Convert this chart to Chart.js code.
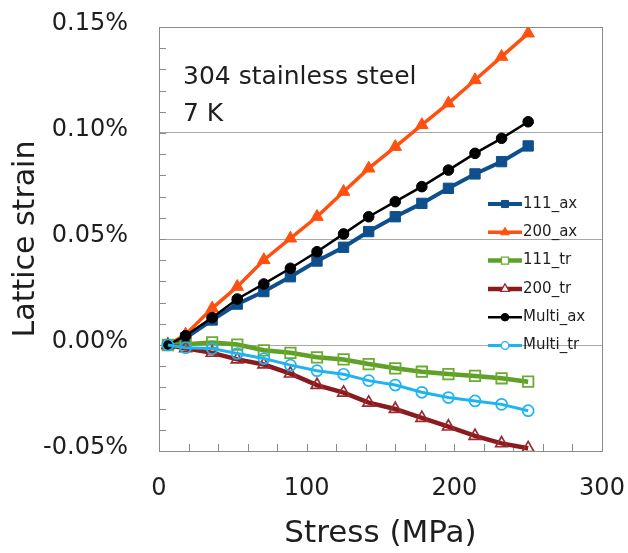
<!DOCTYPE html>
<html><head><meta charset="utf-8">
<script src="https://cdn.jsdelivr.net/npm/chart.js@4.4.0/dist/chart.umd.min.js"></script>
<style>html,body{margin:0;padding:0;background:#fff;} canvas{display:block;}</style>
</head><body>
<canvas id="c" width="628" height="553"></canvas>
<script>
// ---- data (stress in MPa, lattice strain in %) ----
const stress = [6, 18, 36, 53, 71, 89, 107, 125, 142, 160, 178, 196, 214, 232, 250];
const ax111   = [0, 0.0033, 0.0118, 0.0193, 0.0252, 0.0322, 0.0396, 0.0461, 0.0535, 0.0605, 0.0668, 0.0739, 0.0807, 0.0865, 0.0939];
const ax200   = [0, 0.0050, 0.0173, 0.0275, 0.0401, 0.0503, 0.0605, 0.0723, 0.0833, 0.0935, 0.1038, 0.1140, 0.1250, 0.1360, 0.1470];
const tr111   = [0, 0.0003, 0.0012, 0.0002, -0.0025, -0.0037, -0.0058, -0.0068, -0.0090, -0.0110, -0.0126, -0.0137, -0.0146, -0.0157, -0.0173];
const tr200   = [0, -0.0015, -0.0037, -0.0068, -0.0092, -0.0135, -0.0189, -0.0225, -0.0272, -0.0302, -0.0344, -0.0385, -0.0429, -0.0464, -0.0487];
const multiAx = [0, 0.0044, 0.0129, 0.0217, 0.0288, 0.0362, 0.0440, 0.0524, 0.0605, 0.0676, 0.0747, 0.0825, 0.0904, 0.0975, 0.1053];
const multiTr = [0, -0.0013, -0.0017, -0.0040, -0.0064, -0.0095, -0.0121, -0.0138, -0.0168, -0.0189, -0.0223, -0.0248, -0.0264, -0.0280, -0.0310];
const seriesNames = ['111_ax', '200_ax', '111_tr', '200_tr', 'Multi_ax', 'Multi_tr'];
const xMajorTicks = [0, 100, 200, 300];
const yMajorTicks = [-0.05, 0.00, 0.05, 0.10, 0.15];
const annotationLines = ['304 stainless steel', '7 K'];
const xTitle = 'Stress (MPa)';
const yTitle = 'Lattice strain';

const FONT = 'DejaVu Sans';
const TXT = '#1e1e1e';
const toPts = ys => stress.map((x, i) => ({x: x, y: ys[i]}));
const isMajor = (v, list) => list.some(m => Math.abs(m - v) < 1e-9);

const datasets = [
  {label: seriesNames[0], data: toPts(ax111), borderColor: '#0e4f8c', borderWidth: 4,
   pointStyle: 'rect', pointRadius: 7.3, pointBorderWidth: 1, pointBackgroundColor: '#0e4f8c', pointBorderColor: '#0e4f8c', order: 6},
  {label: seriesNames[1], data: toPts(ax200), borderColor: '#ff5010', borderWidth: 3.5,
   pointStyle: 'triangle', pointRadius: 7.2, pointBorderWidth: 1, pointBackgroundColor: '#ff5010', pointBorderColor: '#ff5010', order: 5},
  {label: seriesNames[2], data: toPts(tr111), borderColor: '#5fa027', borderWidth: 4.5,
   pointStyle: 'rect', pointRadius: 7.4, pointBorderWidth: 1.8, pointBackgroundColor: 'rgba(0,0,0,0)', pointBorderColor: '#6aab30', order: 4},
  {label: seriesNames[3], data: toPts(tr200), borderColor: '#8a1a1e', borderWidth: 4.5,
   pointStyle: 'triangle', pointRadius: 6.8, pointBorderWidth: 1.7, pointBackgroundColor: 'rgba(0,0,0,0)', pointBorderColor: '#9a2a2e', order: 3},
  {label: seriesNames[4], data: toPts(multiAx), borderColor: '#000000', borderWidth: 2.5,
   pointStyle: 'circle', pointRadius: 5.3, pointBorderWidth: 1, pointBackgroundColor: '#000000', pointBorderColor: '#000000', order: 2},
  {label: seriesNames[5], data: toPts(multiTr), borderColor: '#1fb4ee', borderWidth: 3,
   pointStyle: 'circle', pointRadius: 5.5, pointBorderWidth: 1.7, pointBackgroundColor: 'rgba(0,0,0,0)', pointBorderColor: '#1fb4ee', order: 1}
];

function drawMarker(ctx, style, x, y, r, fill, stroke, lw) {
  ctx.beginPath();
  if (style === 'rect') {
    const s = Math.SQRT1_2 * r;
    ctx.rect(x - s, y - s, 2 * s, 2 * s);
  } else if (style === 'triangle') {
    const h = Math.sqrt(3) / 2;
    ctx.moveTo(x, y - r);
    ctx.lineTo(x + r * h, y + r / 2);
    ctx.lineTo(x - r * h, y + r / 2);
    ctx.closePath();
  } else {
    ctx.arc(x, y, r, 0, Math.PI * 2);
  }
  if (fill) { ctx.fillStyle = fill; ctx.fill(); }
  if (stroke && lw) { ctx.strokeStyle = stroke; ctx.lineWidth = lw; ctx.stroke(); }
}

const framePlugin = {
  id: 'frame',
  beforeDatasetsDraw(chart) {
    const {ctx, chartArea: a, scales} = chart;
    ctx.save();
    ctx.strokeStyle = '#8a8a8a';
    ctx.lineWidth = 1;
    ctx.beginPath();
    scales.x.ticks.forEach(t => {
      const px = Math.round(scales.x.getPixelForValue(t.value)) + 0.5;
      ctx.moveTo(px, a.bottom); ctx.lineTo(px, a.bottom - 7);
    });
    scales.y.ticks.forEach(t => {
      const py = Math.round(scales.y.getPixelForValue(t.value)) + 0.5;
      ctx.moveTo(a.left, py); ctx.lineTo(a.left + 7, py);
    });
    ctx.stroke();
    ctx.strokeRect(Math.round(a.left) + 0.5, Math.round(a.top) + 0.5, Math.round(a.right - a.left), Math.round(a.bottom - a.top));
    ctx.restore();
  },
  afterDraw(chart) {
    const {ctx, chartArea: a} = chart;
    ctx.save();
    ctx.fillStyle = TXT;
    ctx.font = '25px "' + FONT + '"';
    ctx.textBaseline = 'alphabetic';
    ctx.textAlign = 'left';
    annotationLines.forEach((s, i) => ctx.fillText(s, a.left + 24, a.top + 57 + i * 37));
    const lx0 = a.left + 329, lx1 = a.left + 363, ly0 = a.top + 177, dy = 28.3;
    chart.data.datasets.forEach((ds, i) => {
      const y = ly0 + i * dy;
      ctx.beginPath();
      ctx.strokeStyle = ds.borderColor;
      ctx.lineWidth = ds.borderWidth;
      ctx.moveTo(lx0, y); ctx.lineTo(lx1, y);
      ctx.stroke();
      const filled = ds.pointBackgroundColor !== 'rgba(0,0,0,0)';
      const r = ds.pointStyle === 'circle' ? 3.8 : 5;
      drawMarker(ctx, ds.pointStyle, (lx0 + lx1) / 2, y, r,
        filled ? ds.pointBackgroundColor : '#ffffff', ds.pointBorderColor, filled ? 1 : 1.3);
      ctx.fillStyle = TXT;
      ctx.font = '15px "' + FONT + '"';
      ctx.textBaseline = 'middle';
      ctx.fillText(ds.label, lx1 + 1, y);
    });
    ctx.restore();
  }
};

new Chart(document.getElementById('c'), {
  type: 'line',
  data: {datasets: datasets},
  plugins: [framePlugin],
  options: {
    responsive: false,
    animation: false,
    devicePixelRatio: 1,
    layout: {padding: {top: 27, right: 26, left: 0, bottom: 0}},
    elements: {line: {tension: 0, fill: false}},
    plugins: {legend: {display: false}, tooltip: {enabled: false}},
    scales: {
      x: {
        type: 'linear', min: 0, max: 300,
        afterFit: s => { s.height = 102; s.paddingLeft = 0; s.paddingRight = 0; s.paddingTop = 0; s.paddingBottom = 0; },
        grid: {display: false, drawTicks: false},
        border: {display: false},
        ticks: {
          stepSize: 20, autoSkip: false, maxRotation: 0, padding: 23,
          color: TXT, font: {family: FONT, size: 24},
          callback: v => isMajor(v, xMajorTicks) ? String(v) : ''
        },
        title: {display: true, text: xTitle, color: TXT, font: {family: FONT, size: 31}, padding: {top: 0, bottom: 0}}
      },
      y: {
        type: 'linear', min: -0.05, max: 0.15,
        afterFit: s => { s.width = 159; s.paddingLeft = 0; s.paddingRight = 0; s.paddingTop = 0; s.paddingBottom = 0; },
        grid: {
          drawTicks: false, lineWidth: 1,
          color: c => {
            const v = c.tick ? c.tick.value : 0;
            return (isMajor(v, yMajorTicks) && Math.abs(v - 0.15) > 1e-9 && Math.abs(v + 0.05) > 1e-9) ? '#a8a8a8' : 'rgba(0,0,0,0)';
          }
        },
        border: {display: false},
        ticks: {
          stepSize: 0.01, autoSkip: false, padding: 31, labelOffset: -3,
          color: TXT, font: {family: FONT, size: 24},
          callback: v => {
            if (!isMajor(v, yMajorTicks)) return '';
            const w = Math.abs(v) < 1e-9 ? 0 : v;
            return w.toFixed(2) + '%';
          }
        },
        title: {display: true, text: yTitle, color: TXT, font: {family: FONT, size: 30}, padding: {top: 8, bottom: 0}}
      }
    }
  }
});
</script>
</body></html>
